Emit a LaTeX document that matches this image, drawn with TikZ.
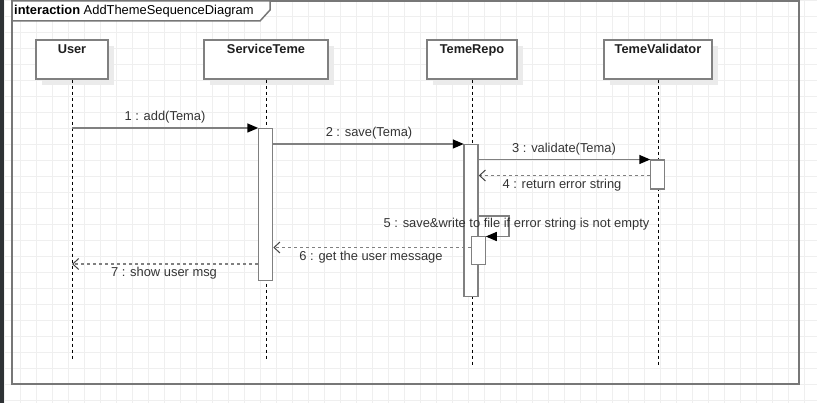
\documentclass[tikz,border=0pt]{standalone}
\usepackage{fontspec}
\setmainfont{Liberation Sans}
\usetikzlibrary{arrows.meta,shadows}
\definecolor{gridc}{HTML}{EFEFEF}
\definecolor{linec}{HTML}{808080}
\definecolor{framec}{HTML}{777777}
\definecolor{txtc}{HTML}{333333}
\definecolor{shadowc}{HTML}{EBEBEB}
\definecolor{stripc}{HTML}{2E3235}
\definecolor{barbc}{HTML}{444444}
\begin{document}
\begin{tikzpicture}[x=1pt,y=-1pt,
  every node/.style={font=\fontsize{12.9}{15}\selectfont, inner sep=0pt},
  part/.style={draw=linec, line width=1.5pt, fill=white, minimum height=39pt,
    general shadow={fill=shadowc, shadow xshift=6pt, shadow yshift=-6pt}},
  partlabel/.style={font=\fontsize{12.8}{15}\selectfont\bfseries, text=black!88, anchor=north},
  act/.style={draw=linec, line width=1.5pt, fill=white, minimum width=14pt, anchor=north},
  lifeline/.style={black, line width=1pt, dash pattern=on 3pt off 3pt},
  msg/.style={linec, line width=1.5pt, -{Triangle[length=11pt,width=9pt,color=black]}, shorten >=-0.5pt},
  ret/.style={linec, line width=1.5pt, dash pattern=on 3pt off 3pt, -{Straight Barb[length=6pt,width=11pt,line width=1pt,color=barbc]}},
  msglabel/.style={text=txtc}]
\useasboundingbox (0,0) rectangle (817,403);
% background grid
\foreach \i in {0,...,51} \draw[gridc, line width=0.8pt] (4+16*\i,0) -- (4+16*\i,403);
\foreach \j in {0,...,25} \draw[gridc, line width=0.8pt] (0,16*\j) -- (817,16*\j);
% dark strip at left edge
\fill[stripc] (0,0) rectangle (4,403);
% frame
\draw[framec, line width=1.5pt] (12,1) rectangle (799,384);
\draw[framec, line width=1.5pt, fill=white] (12,1) -- (270,1) -- (270,10) -- (260,21) -- (12,21) -- cycle;
\node[anchor=west] (title) at (14,11.5) {\textbf{interaction} AddThemeSequenceDiagram};
% participants
\node[part, minimum width=72pt] (user) at (72,59.5) {};
\node[part, minimum width=124pt] (serv) at (266,59.5) {};
\node[part, minimum width=90pt] (repo) at (472,59.5) {};
\node[part, minimum width=108pt] (val) at (658,59.5) {};
\node[partlabel] (userl) at ([yshift=-5pt]user.north) {User};
\node[partlabel] (servl) at ([yshift=-5pt]serv.north) {ServiceTeme};
\node[partlabel] (repol) at ([yshift=-5pt]repo.north) {TemeRepo};
\node[partlabel] (vall) at ([yshift=-5pt]val.north) {TemeValidator};
% lifelines
\coordinate (userend) at (72,359);
\coordinate (servend) at (266,359);
\coordinate (repoend) at (472,365);
\coordinate (valend) at (658,365);
\draw[lifeline] (user.south) -- (userend);
\draw[lifeline] (serv.south) -- (servend);
\draw[lifeline] (repo.south) -- (repoend);
\draw[lifeline] (val.south) -- (valend);
% activations
\node[act, minimum height=152pt] (actS) at (265.5,128) {};
\node[act, minimum height=152pt] (actR) at (471,144) {};
\node[act, minimum height=29pt] (actV) at (657.5,159.5) {};
\node[act, minimum height=28pt] (actR2) at (478.5,236) {};
% messages
\draw[msg] (user.south |- actS.north west) -- (actS.north west);
\node[msglabel] (l1) at (165,117.5) {1 : add(Tema)};
\draw[msg] (actS.east |- actR.north) -- (actR.north west);
\node[msglabel] (l2) at (369,133.5) {2 : save(Tema)};
\draw[msg] (actR.east |- actV.north) -- (actV.north west);
\node[msglabel] (l3) at (564,149) {3 : validate(Tema)};
\coordinate (r4) at ([yshift=-16pt]actV.north west);
\draw[ret] (r4) -- (actR.east |- r4);
\node[msglabel] (l4) at (562,185.5) {4 : return error string};
\coordinate (s5) at ([yshift=-72pt]actR.north east);
\draw[msg] (s5) -- ++(30,0) |- ([yshift=-0.5pt]actR2.north east);
\node[msglabel] (l5) at (516.5,224.5) {5 : save\&write to file if error string is not empty};
\coordinate (r6) at ([yshift=-11.5pt]actR2.north west);
\draw[ret] (r6) -- (actS.east |- r6);
\node[msglabel] (l6) at (371,257.5) {6 : get the user message};
\coordinate (r7) at ([yshift=-136pt]actS.north west);
\draw[ret] (r7) -- (user.south |- r7);
\node[msglabel] (l7) at (164,273.5) {7 : show user msg};
\end{tikzpicture}
\end{document}
